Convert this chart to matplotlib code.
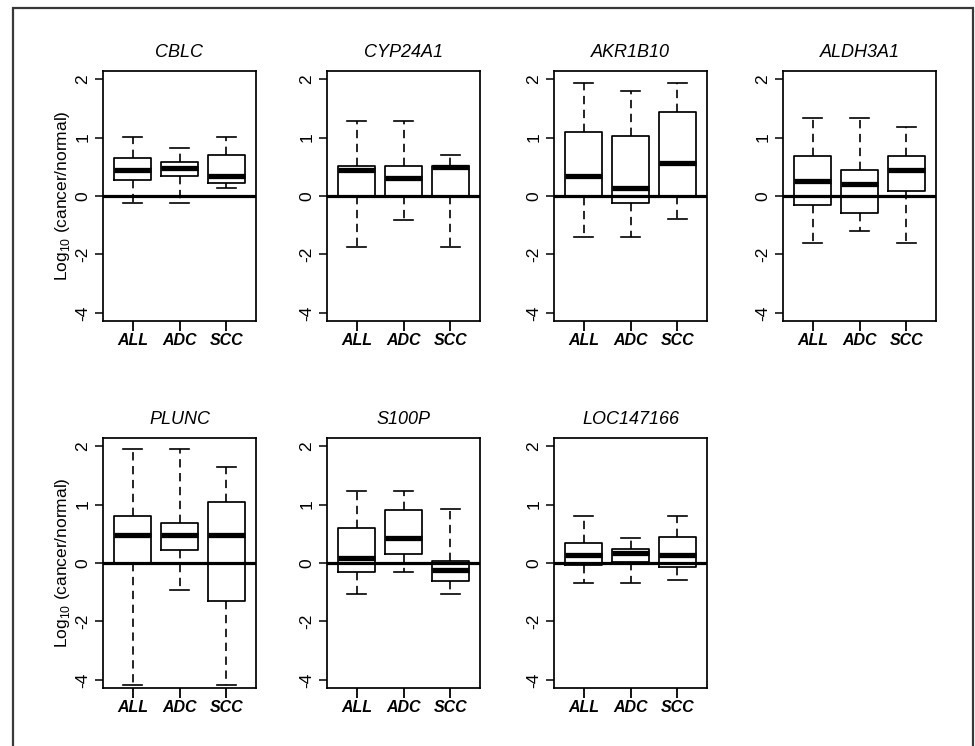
import numpy as np
import matplotlib
matplotlib.use("Agg")
import matplotlib.pyplot as plt
from matplotlib.patches import Rectangle

plt.rcParams["font.family"] = ["Liberation Sans", "DejaVu Sans"]
plt.rcParams["lines.scale_dashes"] = False

genes = ["CBLC", "CYP24A1", "AKR1B10", "ALDH3A1", "PLUNC", "S100P", "LOC147166"]
groups = ["ALL", "ADC", "SCC"]

# values in log10(cancer/normal), one row per gene, columns ALL / ADC / SCC
whis_lo = [[-0.23, -0.23, 0.13],
           [-1.76, -0.81, -1.76],
           [-1.42, -1.42, -0.79],
           [-1.62, -1.21, -1.62],
           [-4.18, -0.94, -4.18],
           [-1.07, -0.31, -1.07],
           [-0.67, -0.67, -0.58]]
q1 = [[0.28, 0.34, 0.23],
      [0.0, 0.0, 0.0],
      [-0.03, -0.25, 0.0],
      [-0.30, -0.58, 0.08],
      [0.0, 0.23, -1.31],
      [-0.31, 0.16, -0.63],
      [-0.06, 0.02, -0.12]]
med = [[0.45, 0.48, 0.34],
       [0.44, 0.30, 0.49],
       [0.34, 0.13, 0.56],
       [0.26, 0.21, 0.45],
       [0.48, 0.48, 0.48],
       [0.09, 0.42, -0.25],
       [0.14, 0.17, 0.14]]
q3 = [[0.65, 0.59, 0.70],
      [0.51, 0.52, 0.51],
      [1.10, 1.02, 1.43],
      [0.68, 0.45, 0.68],
      [0.80, 0.68, 1.05],
      [0.60, 0.90, 0.04],
      [0.34, 0.24, 0.45]]
whis_hi = [[1.01, 0.83, 1.01],
           [1.29, 1.29, 0.70],
           [1.93, 1.79, 1.93],
           [1.34, 1.34, 1.18],
           [1.95, 1.95, 1.64],
           [1.24, 1.24, 0.92],
           [0.80, 0.42, 0.80]]
yticks = [2, 1, 0, -2, -4]


# negative side of the axis is compressed by a factor of two
def fwd(y):
    y = np.asarray(y, dtype=float)
    return np.where(y >= 0, y, y / 2)


def inv(s):
    s = np.asarray(s, dtype=float)
    return np.where(s >= 0, s, s * 2)


W, H = 975, 746
fig = plt.figure(figsize=(W / 100, H / 100), dpi=100)

# outer frame
fig.patches.append(Rectangle((13 / W, -0.02), 960 / W, 1 - 8 / H + 0.02,
                             transform=fig.transFigure, fill=False,
                             edgecolor="#383838", linewidth=1.6))

lefts = [103, 327, 554, 783]
tops = [71, 438]
aw, ah = 153, 250

for i, gene in enumerate(genes):
    row, col = divmod(i, 4)
    ax = fig.add_axes([lefts[col] / W, 1 - (tops[row] + ah) / H, aw / W, ah / H])
    ax.set_yscale("function", functions=(fwd, inv))

    stats = []
    for j, g in enumerate(groups):
        stats.append({"med": med[i][j], "q1": q1[i][j], "q3": q3[i][j],
                      "whislo": whis_lo[i][j], "whishi": whis_hi[i][j],
                      "fliers": [], "label": g})
    ax.bxp(stats, positions=[1, 2, 3], widths=0.8, capwidths=0.42,
           showfliers=False, manage_ticks=False,
           boxprops=dict(color="black", linewidth=1.25),
           whiskerprops=dict(color="black", linewidth=1.2, linestyle=(0, (6, 4))),
           capprops=dict(color="black", linewidth=1.2),
           medianprops=dict(color="black", linewidth=3.8, solid_capstyle="butt"))
    ax.axhline(0, color="black", linewidth=2.3, zorder=5)

    ax.set_xlim(0.372, 3.628)
    ax.set_ylim(-4.28, 2.14)
    ax.set_yticks(yticks)
    ax.set_yticklabels([str(t) for t in yticks], rotation=90, va="center")
    ax.yaxis.set_minor_locator(plt.NullLocator())
    ax.set_xticks([1, 2, 3])
    ax.set_xticklabels(groups, fontsize=11.5, fontweight="bold", fontstyle="italic")
    ax.tick_params(axis="y", length=6, width=1.1, labelsize=12.5, pad=3)
    ax.tick_params(axis="x", length=7, width=1.3, pad=2)
    for sp in ax.spines.values():
        sp.set_linewidth(1.25)

    ax.set_title(gene, fontsize=13, fontstyle="italic", pad=10)
    if col == 0:
        ax.set_ylabel(r"Log$_{\mathregular{10}}$ (cancer/normal)", fontsize=12.5)
        ax.yaxis.set_label_coords(-0.20, 0.5)

fig.savefig("out.png", dpi=100)
